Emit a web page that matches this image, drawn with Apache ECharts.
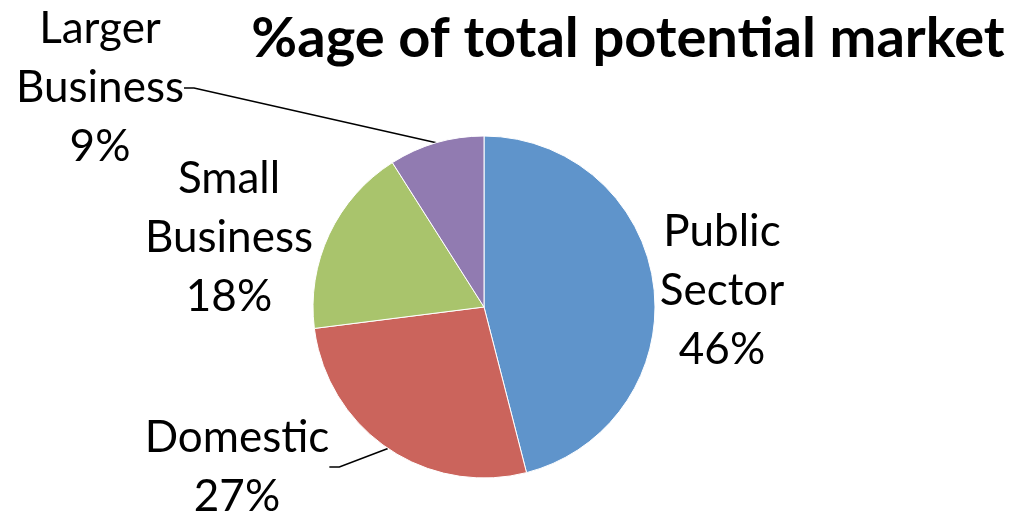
<!DOCTYPE html>
<html><head><meta charset="utf-8">
<script src="https://cdn.jsdelivr.net/npm/echarts@6/dist/echarts.min.js"></script>
<style>html,body{margin:0;padding:0;background:#fff}#c{width:1014px;height:515px}</style>
</head><body><div id="c"></div>
<script>
const titleText = '%age of total potential market';
const categories = ['Public\nSector', 'Domestic', 'Small\nBusiness', 'Larger\nBusiness'];
const values = [46, 27, 18, 9];
const colors = ['#5F94CB', '#CB645C', '#A9C46C', '#917BB1'];
const showLeader = [false, true, false, true];
// label centres (layout only)
const labelPos = [[722, 291], [237, 467], [229, 238], [100, 88]];

const chart = echarts.init(document.getElementById('c'));
chart.setOption({
  animation: false,
  title: {
    text: titleText, left: 623, top: 6, textAlign: 'center',
    textStyle: { fontFamily: 'Lato', fontWeight: 'bold', fontSize: 56, color: '#000' }
  },
  series: [{
    type: 'pie',
    center: [484, 307],
    radius: 171,
    startAngle: 90,
    clockwise: true,
    data: categories.map((n, i) => ({
      name: n, value: values[i], itemStyle: { color: colors[i] },
      labelLine: { show: showLeader[i] }
    })),
    itemStyle: { borderColor: '#fff', borderWidth: 1 },
    label: {
      show: true, position: 'outside',
      formatter: p => p.name + '\n' + p.percent.toFixed(0) + '%',
      fontFamily: 'Lato', fontSize: 44, lineHeight: 59, color: '#000', align: 'center'
    },
    labelLine: { show: true, length: 10, length2: 10, lineStyle: { color: '#000', width: 1.5 } },
    labelLayout: function (p) {
      const pos = labelPos[p.dataIndex];
      return { x: pos[0], y: pos[1], align: 'center', verticalAlign: 'middle' };
    }
  }]
});
</script></body></html>
